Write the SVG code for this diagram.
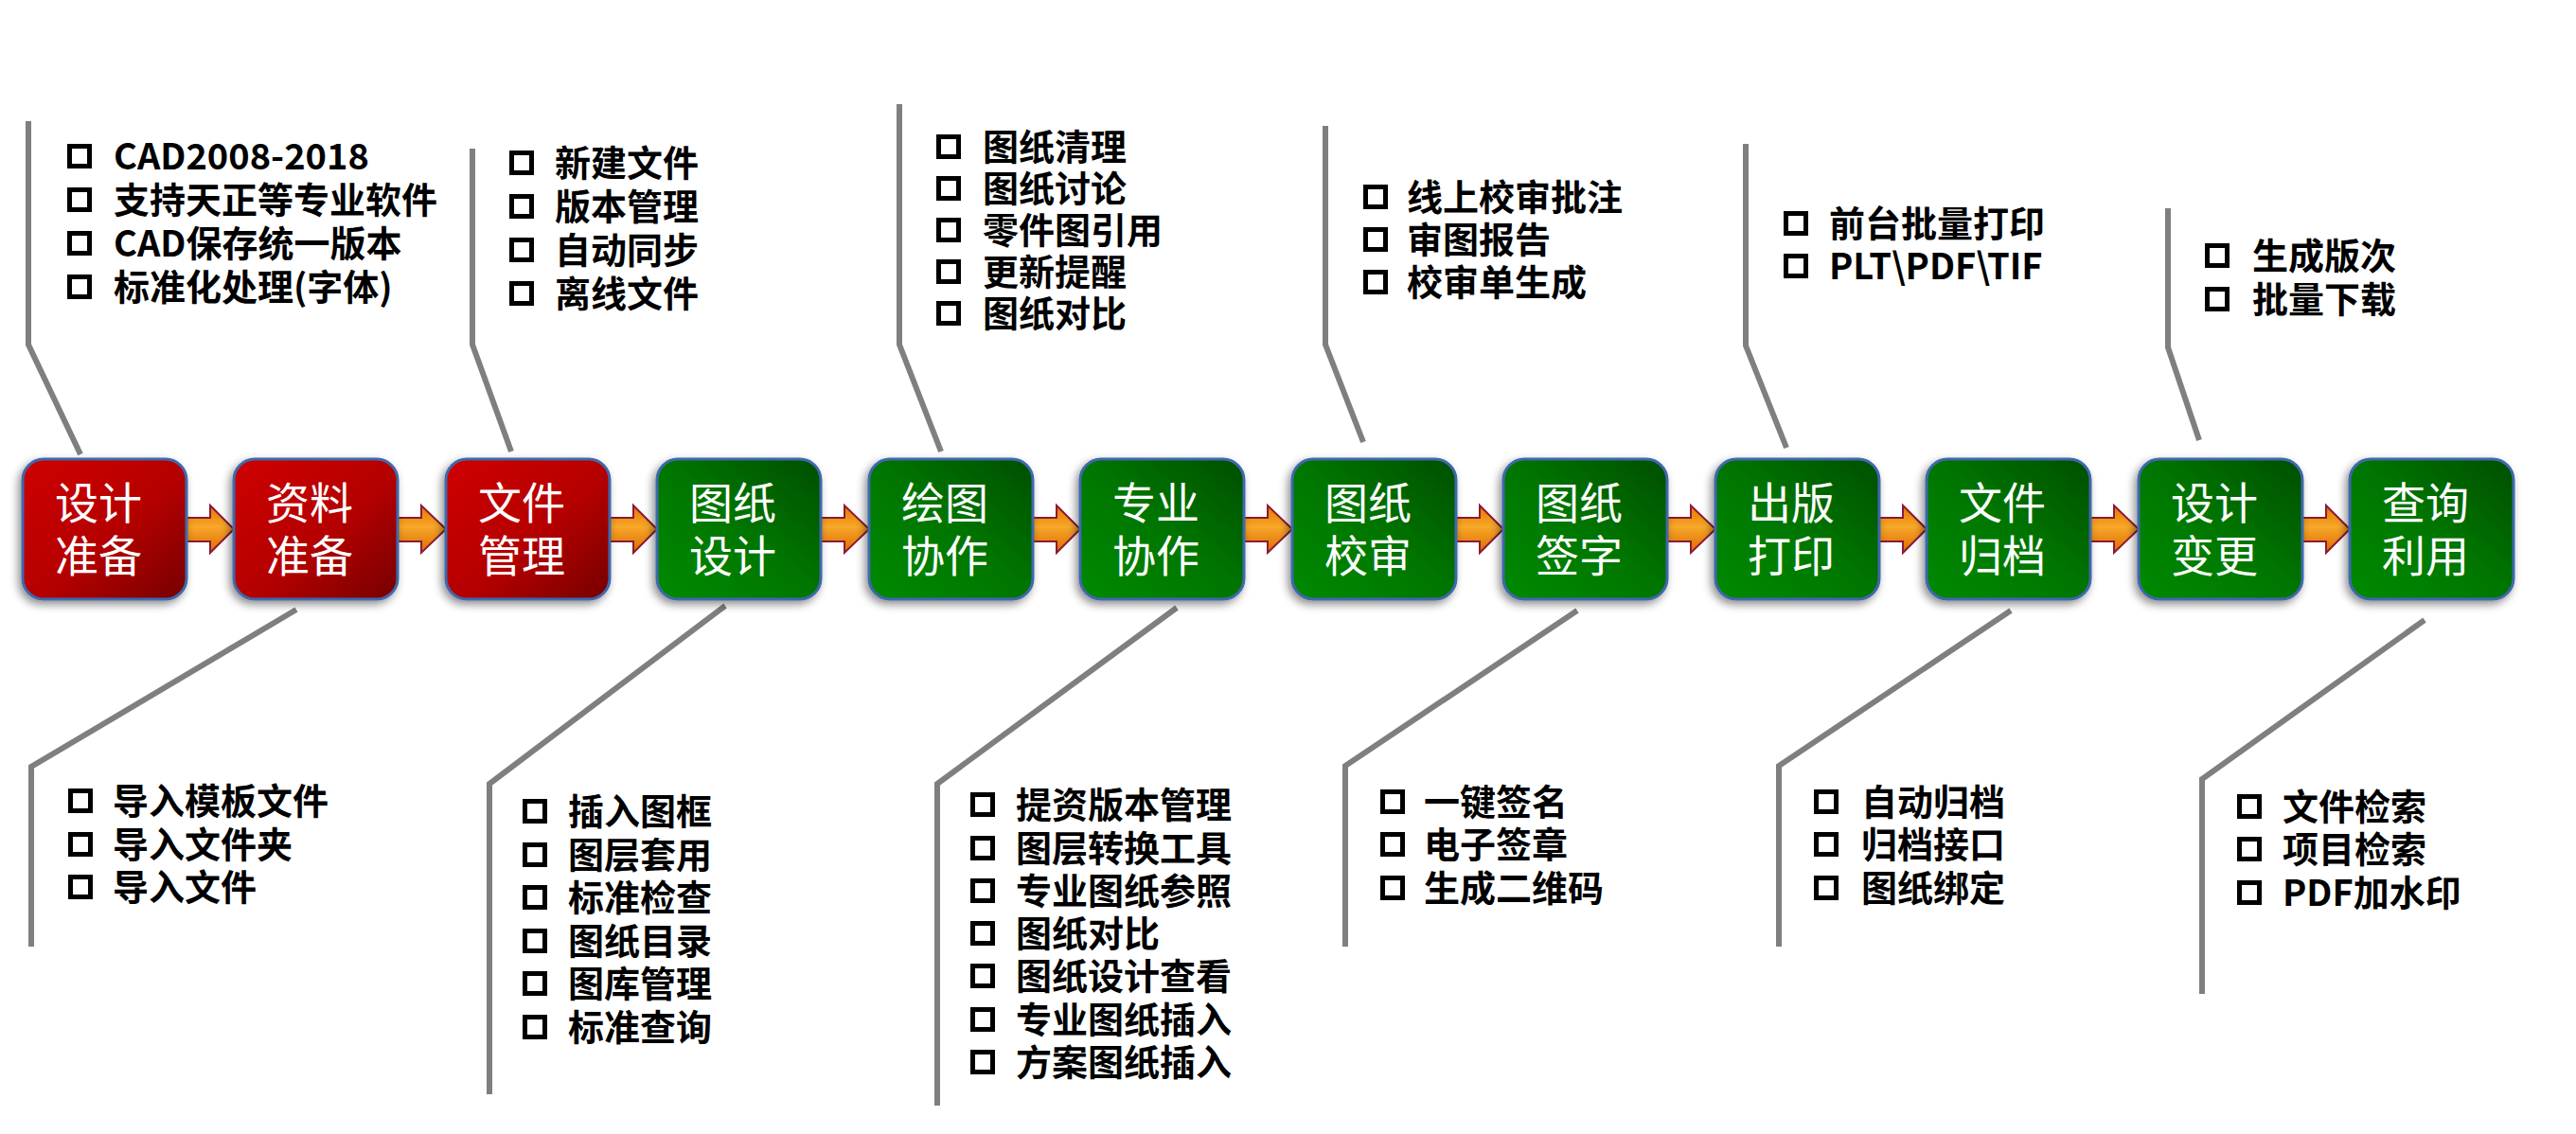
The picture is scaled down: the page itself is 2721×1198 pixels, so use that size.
<svg xmlns="http://www.w3.org/2000/svg" width="2721" height="1198" viewBox="0 0 2721 1198">
<defs>
<linearGradient id="gRed" x1="0" y1="0" x2="1" y2="1">
<stop offset="0" stop-color="#cf0000"/><stop offset="0.55" stop-color="#b40000"/><stop offset="1" stop-color="#760000"/>
</linearGradient>
<linearGradient id="gGreen" x1="0" y1="1" x2="1" y2="0">
<stop offset="0" stop-color="#008a00"/><stop offset="0.5" stop-color="#007600"/><stop offset="1" stop-color="#004e00"/>
</linearGradient>
<linearGradient id="gArrow" x1="0" y1="0" x2="0" y2="1">
<stop offset="0" stop-color="#e47400"/><stop offset="0.45" stop-color="#f7a829"/><stop offset="1" stop-color="#dc6a00"/>
</linearGradient>
<filter id="shadow" x="-20%" y="-20%" width="140%" height="140%">
<feDropShadow dx="-3" dy="4" stdDeviation="5" flood-color="#000" flood-opacity="0.45"/>
</filter>
</defs>
<style>
.box{stroke:#3f68ac;stroke-width:3;filter:url(#shadow)}
.red{fill:url(#gRed)}
.green{fill:url(#gGreen)}
.lbl{font-family:"Noto Sans CJK SC","Noto Sans",sans-serif;font-size:46px;fill:#fff;text-anchor:middle}
.item{font-family:"Noto Sans CJK SC","Noto Sans",sans-serif;font-size:38px;font-weight:700;fill:#000}
.cb{fill:none;stroke:#000;stroke-width:5}
.line{fill:none;stroke:#7f7f7f;stroke-width:6;stroke-linejoin:miter}
.arr{fill:url(#gArrow);stroke:#8c1a36;stroke-width:2}
</style>
<rect width="2721" height="1198" fill="#fff"/>

<g id="connectors">
<path class="line" d="M30,128 V364 L85,480"/>
<path class="line" d="M499,157 V364 L540,477"/>
<path class="line" d="M950,110 V364 L994,477"/>
<path class="line" d="M1400,133 V364 L1440,467"/>
<path class="line" d="M1844,152 V365 L1887,473"/>
<path class="line" d="M2290,220 V367 L2323,465"/>
<path class="line" d="M313,644 L33,810 V1000"/>
<path class="line" d="M766,640 L517,828 V1156"/>
<path class="line" d="M1243,642 L990,828 V1168"/>
<path class="line" d="M1666,645 L1421,809 V1000"/>
<path class="line" d="M2124,645 L1879,809 V1000"/>
<path class="line" d="M2561,655 L2326,823 V1050"/>
<g class="arr">
<path d="M197,547 H222 V534 L247,559 L222,584 V572 H197 Z"/>
<path d="M420,547 H445 V534 L471,559 L445,584 V572 H420 Z"/>
<path d="M644,547 H669 V534 L694,559 L669,584 V572 H644 Z"/>
<path d="M867,547 H892 V534 L918,559 L892,584 V572 H867 Z"/>
<path d="M1091,547 H1116 V534 L1141,559 L1116,584 V572 H1091 Z"/>
<path d="M1314,547 H1339 V534 L1365,559 L1339,584 V572 H1314 Z"/>
<path d="M1538,547 H1563 V534 L1588,559 L1563,584 V572 H1538 Z"/>
<path d="M1761,547 H1786 V534 L1812,559 L1786,584 V572 H1761 Z"/>
<path d="M1985,547 H2010 V534 L2035,559 L2010,584 V572 H1985 Z"/>
<path d="M2208,547 H2233 V534 L2259,559 L2233,584 V572 H2208 Z"/>
<path d="M2432,547 H2457 V534 L2482,559 L2457,584 V572 H2432 Z"/>
</g>
</g>

<g id="node-1"><rect class="box red" x="24" y="485" width="173" height="148" rx="22"/><text class="lbl" x="104" y="548">设计</text><text class="lbl" x="104" y="604">准备</text></g>
<g id="node-2"><rect class="box red" x="247" y="485" width="173" height="148" rx="22"/><text class="lbl" x="327" y="548">资料</text><text class="lbl" x="327" y="604">准备</text></g>
<g id="node-3"><rect class="box red" x="471" y="485" width="173" height="148" rx="22"/><text class="lbl" x="551" y="548">文件</text><text class="lbl" x="551" y="604">管理</text></g>
<g id="node-4"><rect class="box green" x="694" y="485" width="173" height="148" rx="22"/><text class="lbl" x="774" y="548">图纸</text><text class="lbl" x="774" y="604">设计</text></g>
<g id="node-5"><rect class="box green" x="918" y="485" width="173" height="148" rx="22"/><text class="lbl" x="998" y="548">绘图</text><text class="lbl" x="998" y="604">协作</text></g>
<g id="node-6"><rect class="box green" x="1141" y="485" width="173" height="148" rx="22"/><text class="lbl" x="1221" y="548">专业</text><text class="lbl" x="1221" y="604">协作</text></g>
<g id="node-7"><rect class="box green" x="1365" y="485" width="173" height="148" rx="22"/><text class="lbl" x="1445" y="548">图纸</text><text class="lbl" x="1445" y="604">校审</text></g>
<g id="node-8"><rect class="box green" x="1588" y="485" width="173" height="148" rx="22"/><text class="lbl" x="1668" y="548">图纸</text><text class="lbl" x="1668" y="604">签字</text></g>
<g id="node-9"><rect class="box green" x="1812" y="485" width="173" height="148" rx="22"/><text class="lbl" x="1892" y="548">出版</text><text class="lbl" x="1892" y="604">打印</text></g>
<g id="node-10"><rect class="box green" x="2035" y="485" width="173" height="148" rx="22"/><text class="lbl" x="2115" y="548">文件</text><text class="lbl" x="2115" y="604">归档</text></g>
<g id="node-11"><rect class="box green" x="2259" y="485" width="173" height="148" rx="22"/><text class="lbl" x="2339" y="548">设计</text><text class="lbl" x="2339" y="604">变更</text></g>
<g id="node-12"><rect class="box green" x="2482" y="485" width="173" height="148" rx="22"/><text class="lbl" x="2562" y="548">查询</text><text class="lbl" x="2562" y="604">利用</text></g>

<g id="list-1">
<rect class="cb" x="73.5" y="154.5" width="21" height="21"/><text class="item" x="120" y="179">CAD2008-2018</text>
<rect class="cb" x="73.5" y="200.5" width="21" height="21"/><text class="item" x="120" y="225">支持天正等专业软件</text>
<rect class="cb" x="73.5" y="246.5" width="21" height="21"/><text class="item" x="120" y="271">CAD保存统一版本</text>
<rect class="cb" x="73.5" y="292.5" width="21" height="21"/><text class="item" x="120" y="317">标准化处理(字体)</text>
</g>
<g id="list-3">
<rect class="cb" x="540.5" y="161.5" width="21" height="21"/><text class="item" x="586" y="186">新建文件</text>
<rect class="cb" x="540.5" y="207.5" width="21" height="21"/><text class="item" x="586" y="232">版本管理</text>
<rect class="cb" x="540.5" y="253.5" width="21" height="21"/><text class="item" x="586" y="278">自动同步</text>
<rect class="cb" x="540.5" y="299.5" width="21" height="21"/><text class="item" x="586" y="324">离线文件</text>
</g>
<g id="list-5">
<rect class="cb" x="991.5" y="144.5" width="21" height="21"/><text class="item" x="1038" y="169">图纸清理</text>
<rect class="cb" x="991.5" y="188.5" width="21" height="21"/><text class="item" x="1038" y="213">图纸讨论</text>
<rect class="cb" x="991.5" y="232.5" width="21" height="21"/><text class="item" x="1038" y="257">零件图引用</text>
<rect class="cb" x="991.5" y="276.5" width="21" height="21"/><text class="item" x="1038" y="301">更新提醒</text>
<rect class="cb" x="991.5" y="320.5" width="21" height="21"/><text class="item" x="1038" y="345">图纸对比</text>
</g>
<g id="list-7">
<rect class="cb" x="1442.5" y="197.5" width="21" height="21"/><text class="item" x="1486" y="222">线上校审批注</text>
<rect class="cb" x="1442.5" y="242.5" width="21" height="21"/><text class="item" x="1486" y="267">审图报告</text>
<rect class="cb" x="1442.5" y="287.5" width="21" height="21"/><text class="item" x="1486" y="312">校审单生成</text>
</g>
<g id="list-9">
<rect class="cb" x="1886.5" y="225.5" width="21" height="21"/><text class="item" x="1932" y="250">前台批量打印</text>
<rect class="cb" x="1886.5" y="270.5" width="21" height="21"/><text class="item" x="1932" y="295">PLT\PDF\TIF</text>
</g>
<g id="list-11">
<rect class="cb" x="2331.5" y="259.5" width="21" height="21"/><text class="item" x="2379" y="284">生成版次</text>
<rect class="cb" x="2331.5" y="305.5" width="21" height="21"/><text class="item" x="2379" y="330">批量下载</text>
</g>
<g id="list-2">
<rect class="cb" x="74.5" y="835.5" width="21" height="21"/><text class="item" x="119" y="860">导入模板文件</text>
<rect class="cb" x="74.5" y="881.5" width="21" height="21"/><text class="item" x="119" y="906">导入文件夹</text>
<rect class="cb" x="74.5" y="926.5" width="21" height="21"/><text class="item" x="119" y="951">导入文件</text>
</g>
<g id="list-4">
<rect class="cb" x="554.5" y="846.5" width="21" height="21"/><text class="item" x="600" y="871">插入图框</text>
<rect class="cb" x="554.5" y="892.5" width="21" height="21"/><text class="item" x="600" y="917">图层套用</text>
<rect class="cb" x="554.5" y="937.5" width="21" height="21"/><text class="item" x="600" y="962">标准检查</text>
<rect class="cb" x="554.5" y="983.5" width="21" height="21"/><text class="item" x="600" y="1008">图纸目录</text>
<rect class="cb" x="554.5" y="1028.5" width="21" height="21"/><text class="item" x="600" y="1053">图库管理</text>
<rect class="cb" x="554.5" y="1074.5" width="21" height="21"/><text class="item" x="600" y="1099">标准查询</text>
</g>
<g id="list-6">
<rect class="cb" x="1027.5" y="839.5" width="21" height="21"/><text class="item" x="1073" y="864">提资版本管理</text>
<rect class="cb" x="1027.5" y="885.5" width="21" height="21"/><text class="item" x="1073" y="910">图层转换工具</text>
<rect class="cb" x="1027.5" y="930.5" width="21" height="21"/><text class="item" x="1073" y="955">专业图纸参照</text>
<rect class="cb" x="1027.5" y="975.5" width="21" height="21"/><text class="item" x="1073" y="1000">图纸对比</text>
<rect class="cb" x="1027.5" y="1020.5" width="21" height="21"/><text class="item" x="1073" y="1045">图纸设计查看</text>
<rect class="cb" x="1027.5" y="1066.5" width="21" height="21"/><text class="item" x="1073" y="1091">专业图纸插入</text>
<rect class="cb" x="1027.5" y="1111.5" width="21" height="21"/><text class="item" x="1073" y="1136">方案图纸插入</text>
</g>
<g id="list-8">
<rect class="cb" x="1460.5" y="836.5" width="21" height="21"/><text class="item" x="1504" y="861">一键签名</text>
<rect class="cb" x="1460.5" y="881.5" width="21" height="21"/><text class="item" x="1504" y="906">电子签章</text>
<rect class="cb" x="1460.5" y="927.5" width="21" height="21"/><text class="item" x="1504" y="952">生成二维码</text>
</g>
<g id="list-10">
<rect class="cb" x="1918.5" y="836.5" width="21" height="21"/><text class="item" x="1966" y="861">自动归档</text>
<rect class="cb" x="1918.5" y="881.5" width="21" height="21"/><text class="item" x="1966" y="906">归档接口</text>
<rect class="cb" x="1918.5" y="927.5" width="21" height="21"/><text class="item" x="1966" y="952">图纸绑定</text>
</g>
<g id="list-12">
<rect class="cb" x="2365.5" y="841.5" width="21" height="21"/><text class="item" x="2411" y="866">文件检索</text>
<rect class="cb" x="2365.5" y="886.5" width="21" height="21"/><text class="item" x="2411" y="911">项目检索</text>
<rect class="cb" x="2365.5" y="932.5" width="21" height="21"/><text class="item" x="2411" y="957">PDF加水印</text>
</g>
</svg>
